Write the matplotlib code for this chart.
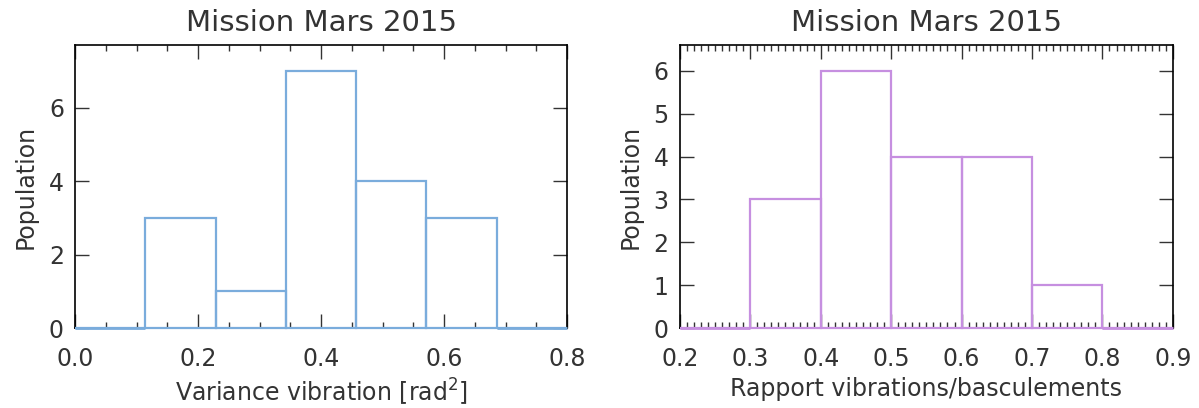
import matplotlib
matplotlib.use("Agg")
import matplotlib.pyplot as plt
import numpy as np
from matplotlib.ticker import MultipleLocator, FormatStrFormatter

# Left histogram: variance of vibration
var_edges = np.linspace(0.0, 0.8, 8)
var_counts = [0, 3, 1, 7, 4, 3, 0]

# Right histogram: ratio vibrations / tilts
ratio_edges = np.linspace(0.2, 0.9, 8)
ratio_counts = [0, 3, 6, 4, 4, 1, 0]

title = "Mission Mars 2015"

plt.rcParams["font.family"] = ["DejaVu Sans"]

fig = plt.figure(figsize=(11.99, 4.08), dpi=100)
ax1 = fig.add_axes([0.0626, 0.196, 0.4103, 0.6936])
ax2 = fig.add_axes([0.567, 0.196, 0.4112, 0.6936])


def draw_hist(ax, edges, counts, color, xmajor, xminor, ymajor, xlabel):
    counts = np.asarray(counts)
    widths = np.diff(edges)
    ax.bar(edges[:-1], counts, width=widths, align="edge", fill=False,
           edgecolor=color, linewidth=1.6, zorder=3, clip_on=False)
    # empty bins still show as a coloured line on the baseline
    empty = counts == 0
    ax.hlines(counts[empty], edges[:-1][empty], edges[1:][empty],
              color=color, linewidth=2, zorder=3, clip_on=False)
    ax.set_xlim(edges[0], edges[-1])
    ax.set_ylim(0, max(counts) * 1.1)
    ax.xaxis.set_major_locator(MultipleLocator(xmajor))
    ax.xaxis.set_minor_locator(MultipleLocator(xminor))
    ax.yaxis.set_major_locator(MultipleLocator(ymajor))
    ax.xaxis.set_major_formatter(FormatStrFormatter("%.1f"))
    ax.tick_params(which="both", direction="in", top=True, right=True,
                   labelsize=17, color="#333333", labelcolor="#333333")
    ax.tick_params(which="major", length=10, width=1)
    ax.tick_params(which="minor", length=4, width=1)
    ax.tick_params(axis="x", pad=14)
    ax.tick_params(axis="y", pad=8)
    for s in ax.spines.values():
        s.set_linewidth(1.2)
    ax.set_title(title, fontsize=21, pad=10, color="#333333")
    ax.set_xlabel(xlabel, fontsize=17, color="#333333")
    ax.set_ylabel("Population", fontsize=17, color="#333333", labelpad=8)


draw_hist(ax1, var_edges, var_counts, "#7aacdc", 0.2, 0.05, 2,
          "Variance vibration [rad$^2$]")
draw_hist(ax2, ratio_edges, ratio_counts, "#c68fe0", 0.1, 0.01, 1,
          "Rapport vibrations/basculements")

fig.savefig("out.png", dpi=100)
